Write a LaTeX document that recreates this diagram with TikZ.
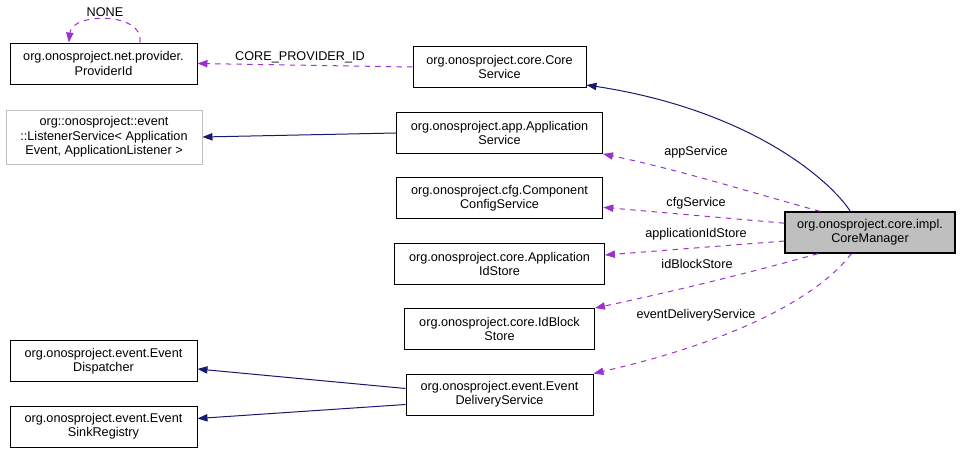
\documentclass[tikz,border=0pt]{standalone}
\usepackage{fontspec}
\setmainfont{Liberation Sans}
\usetikzlibrary{arrows.meta}
\definecolor{inhblue}{HTML}{191970}
\definecolor{deppurple}{HTML}{9A32CD}
\definecolor{extgray}{HTML}{BFBFBF}

\begin{document}
\begin{tikzpicture}[x=0.75pt, y=-0.75pt,
  font=\fontsize{9.5}{10.8}\selectfont,
  cls/.style={draw, line width=0.7pt, align=center, inner sep=0pt, minimum height=30.75pt},
  ext/.style={cls, draw=extgray},
  inh/.style={draw=inhblue, line width=0.75pt, -{Triangle[length=7.5pt, width=5.5pt]}},
  dep/.style={draw=deppurple, line width=0.75pt, dash pattern=on 4pt off 4pt, -{Triangle[length=7.5pt, width=5.5pt]}},
  lbl/.style={inner sep=0pt}]
\useasboundingbox (0,0) rectangle (960,452);

% classes
\node[cls, minimum width=140.25pt] (provider) at (103.5,63.5) {org.onosproject.net.provider.\\ProviderId};
\node[ext, minimum width=147pt, minimum height=40.5pt] (listener) at (104,137) {org::onosproject::event\\::ListenerService< Application\\Event, ApplicationListener >};
\node[cls, minimum width=129.75pt] (coresvc) at (499.5,67) {org.onosproject.core.Core\\Service};
\node[cls, minimum width=154.5pt] (appsvc) at (499.5,133) {org.onosproject.app.Application\\Service};
\node[cls, minimum width=155pt] (cfgsvc) at (499.5,198) {org.onosproject.cfg.Component\\ConfigService};
\node[cls, minimum width=157.5pt] (appid) at (499.5,264) {org.onosproject.core.Application\\IdStore};
\node[cls, minimum width=142.5pt] (idblock) at (499.5,329) {org.onosproject.core.IdBlock\\Store};
\node[cls, minimum width=140.25pt] (evdeliv) at (499.5,394.5) {org.onosproject.event.Event\\DeliveryService};
\node[cls, minimum width=140.25pt] (dispatcher) at (103.5,361) {org.onosproject.event.Event\\Dispatcher};
\node[cls, minimum width=140.25pt] (sinkreg) at (103.5,426.5) {org.onosproject.event.Event\\SinkRegistry};
\node[cls, fill=extgray, line width=1pt, minimum width=127.5pt] (coremgr) at (870,232.5) {org.onosproject.core.impl.\\CoreManager};

% inheritance
\draw[inh] (coremgr.north west) ++(66,0) coordinate (cmtop)
  .. controls (830,180) and (750,110) .. ([yshift=2.25pt]coresvc.south east);
\draw[inh] (appsvc.west) -- (listener.east);
\draw[inh] ([yshift=4.5pt]evdeliv.west) -- ([yshift=-6pt]dispatcher.east);
\draw[inh] ([yshift=-7.5pt]evdeliv.west) -- ([yshift=6pt]sinkreg.east);

% usage
\draw[dep] ([xshift=-26pt]provider.north) ++(71,0) coordinate (loopstart)
  .. controls (145,12) and (72,12) .. ([xshift=-26pt]provider.north);
\draw[dep] (coresvc.west) -- (provider.east);
\draw[dep] ([xshift=-37.5pt]coremgr.north) .. controls (760,195) and (680,170) .. (appsvc.south east);
\draw[dep] ([yshift=7pt]coremgr.west) -- ([yshift=-7pt]cfgsvc.east);
\draw[dep] ([yshift=-6.4pt]coremgr.west) -- ([yshift=6.75pt]appid.east);
\draw[dep] ([xshift=-39pt]coremgr.south) .. controls (760,270) and (680,290) .. (idblock.north east);
\draw[dep] ([xshift=-14pt]coremgr.south) .. controls (820,295) and (740,340) .. (evdeliv.north east);

% labels
\node[lbl] (lnone) at (105,12) {NONE};
\node[lbl] (lcore) at (300,57) {CORE\_PROVIDER\_ID};
\node[lbl] (lapp) at (696,152) {appService};
\node[lbl] (lcfg) at (696,203) {cfgService};
\node[lbl] (lappid) at (696,234) {applicationIdStore};
\node[lbl] (lidb) at (697,264) {idBlockStore};
\node[lbl] (levd) at (696,315) {eventDeliveryService};
\end{tikzpicture}
\end{document}
